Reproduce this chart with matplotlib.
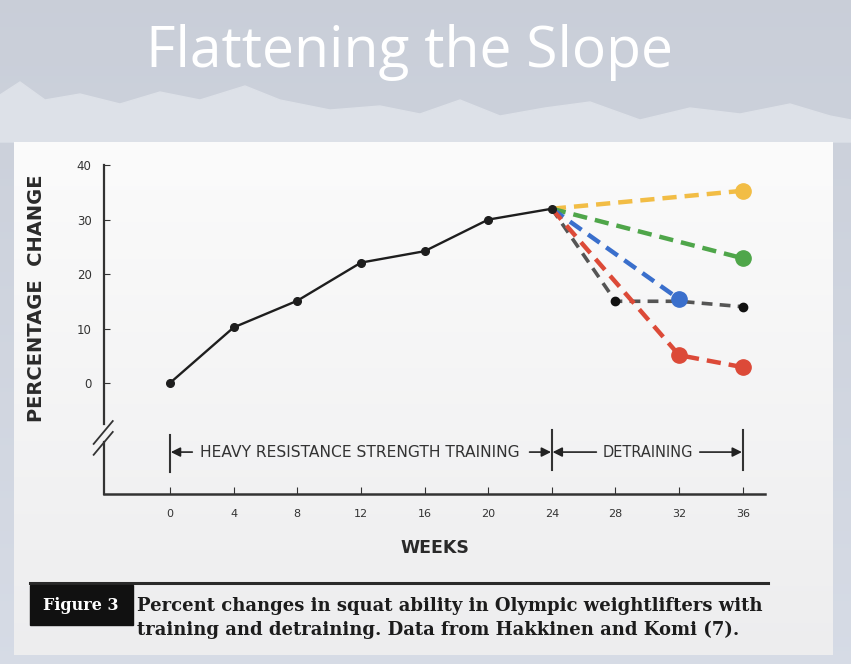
import numpy as np
import matplotlib.pyplot as plt
from matplotlib.patches import Rectangle, Polygon

W, H = 851, 664

# training phase (solid black line)
weeks_train = [0, 4, 8, 12, 16, 20, 24]
pct_train = [0, 10.2, 15.1, 22.1, 24.2, 30.0, 32.0]

# detraining scenarios, all start at week 24
black_x = [24, 28, 32, 36]
black_y = [32.0, 15.0, 15.0, 14.0]
yellow_x = [24, 36]
yellow_y = [32.0, 35.3]
green_x = [24, 36]
green_y = [32.0, 22.9]
blue_x = [24, 32]
blue_y = [32.0, 15.4]
red_x = [24, 32, 36]
red_y = [32.0, 5.1, 2.9]

xticks = [0, 4, 8, 12, 16, 20, 24, 28, 32, 36]
yticks = [0, 10, 20, 30, 40]

fig = plt.figure(figsize=(W / 100, H / 100), dpi=100)

# ---- slide background (sky, mountains, white panel) ----
bg = fig.add_axes([0, 0, 1, 1])
sky = np.linspace(0, 1, 200)[:, None, None]
top_c = np.array([0.79, 0.81, 0.85])
bot_c = np.array([0.84, 0.86, 0.90])
bg.imshow(top_c + (bot_c - top_c) * sky, extent=[0, W, H, 0], aspect='auto')

ridge = [(0, 142), (0, 95), (20, 82), (45, 100), (80, 94), (120, 104), (160, 92),
         (200, 100), (245, 86), (280, 100), (330, 110), (380, 106), (420, 114),
         (460, 100), (500, 116), (545, 108), (590, 102), (640, 120), (690, 108),
         (740, 114), (790, 104), (830, 116), (851, 120), (851, 142)]
bg.add_patch(Polygon(ridge, closed=True, color='#dde1e8', zorder=1))

panel = np.linspace(0, 1, 200)[:, None, None]
p_top = np.array([0.985, 0.985, 0.985])
p_bot = np.array([0.93, 0.93, 0.935])
bg.imshow(p_top + (p_bot - p_top) * panel, extent=[14, 833, 655, 142],
          aspect='auto', zorder=2)
bg.set_xlim(0, W)
bg.set_ylim(H, 0)
bg.axis('off')

bg.text(410, 67, 'Flattening the Slope', color='white', fontsize=41,
        family='Open Sans', ha='center', va='baseline', zorder=3)

# caption
bg.plot([30, 768], [583, 583], color='#2a2a2a', lw=2.2, zorder=3)
bg.add_patch(Rectangle((30, 585), 103, 40, color='#111111', zorder=3))
bg.text(81, 605, 'Figure 3', color='white', fontsize=11.5, fontweight='bold',
        family='DejaVu Serif', ha='center', va='center', zorder=4)
bg.text(137, 606, 'Percent changes in squat ability in Olympic weightlifters with',
        color='#1c1c1c', fontsize=13.0, fontweight='bold', family='DejaVu Serif',
        ha='left', va='center', zorder=4)
bg.text(137, 630, 'training and detraining. Data from Hakkinen and Komi (7).',
        color='#1c1c1c', fontsize=13.0, fontweight='bold', family='DejaVu Serif',
        ha='left', va='center', zorder=4)

# ---- chart ----
left, right, top, bottom = 104, 765, 163, 494
ax = fig.add_axes([left / W, 1 - bottom / H, (right - left) / W, (bottom - top) / H])
ax.patch.set_alpha(0)
ax.set_xlim(-4.15, 37.4)
ax.set_ylim(-20.4, 40.4)

for s in ['top', 'right']:
    ax.spines[s].set_visible(False)
ax.spines['left'].set_bounds(-7.6, 40)
ax.spines['left'].set_color('#333333')
ax.spines['left'].set_linewidth(1.6)
ax.spines['bottom'].set_color('#333333')
ax.spines['bottom'].set_linewidth(1.8)
ax.plot([-4.15, -4.15], [-10.8, -20.4], color='#333333', lw=1.6, clip_on=False)
# axis break marks
for dy in [0, -2.0]:
    ax.plot([-4.8, -3.6], [-11.2 + dy, -7.0 + dy], color='#333333', lw=1.3, clip_on=False)

ax.set_xticks(xticks)
ax.set_yticks(yticks)
ax.tick_params(axis='both', direction='in', colors='#333333', labelcolor='#333333')
ax.tick_params(axis='x', length=5, pad=11, labelsize=8)
ax.tick_params(axis='y', length=4, pad=9, labelsize=8.5)

ax.set_ylabel('PERCENTAGE  CHANGE', fontsize=14, fontweight='bold', color='#2a2a2a')
ax.yaxis.set_label_coords(-0.088, 0.592)
ax.set_xlabel('WEEKS', fontsize=12.5, fontweight='bold', color='#2a2a2a', labelpad=14)

# detraining dashed lines
ax.plot(black_x, black_y, color='#555555', lw=2.6, dashes=(3, 2),
        marker='o', markersize=6, markerfacecolor='#111111', markeredgecolor='#111111',
        markevery=[1, 3], zorder=3)
ax.plot(yellow_x, yellow_y, color='#f2bd45', lw=3.2, dashes=(3.2, 1.8),
        marker='o', markersize=11, markevery=[1], zorder=4)
ax.plot(green_x, green_y, color='#4fa64a', lw=3.2, dashes=(3.2, 1.8),
        marker='o', markersize=11, markevery=[1], zorder=4)
ax.plot(blue_x, blue_y, color='#3a6fcc', lw=3.2, dashes=(3.2, 1.8),
        marker='o', markersize=11, markevery=[1], zorder=4)
ax.plot(red_x, red_y, color='#dc4a38', lw=3.2, dashes=(3.2, 1.8),
        marker='o', markersize=11, markevery=[1, 2], zorder=4)

# training line
ax.plot(weeks_train, pct_train, color='#1e1e1e', lw=1.7, marker='o', markersize=5.5,
        zorder=5)

# phase annotations
ya = -12.7
for xb, y0, y1 in [(0, -9.5, -16.3), (24, -8.6, -16.0), (36, -8.6, -16.0)]:
    ax.plot([xb, xb], [y0, y1], color='#333333', lw=1.5, clip_on=False)
arrow = dict(arrowstyle='-|>', color='#222222', lw=1.2, mutation_scale=14,
             shrinkA=0, shrinkB=0)
ax.annotate('', xy=(0.05, ya), xytext=(1.4, ya), arrowprops=arrow)
ax.annotate('', xy=(23.95, ya), xytext=(22.6, ya), arrowprops=arrow)
ax.annotate('', xy=(24.05, ya), xytext=(26.8, ya), arrowprops=arrow)
ax.annotate('', xy=(35.95, ya), xytext=(33.3, ya), arrowprops=arrow)
ax.text(11.95, ya, 'HEAVY RESISTANCE STRENGTH TRAINING', fontsize=11.2,
        color='#333333', ha='center', va='center')
ax.text(30.05, ya, 'DETRAINING', fontsize=10.5,
        color='#333333', ha='center', va='center')

fig.savefig('out.png', dpi=100)
